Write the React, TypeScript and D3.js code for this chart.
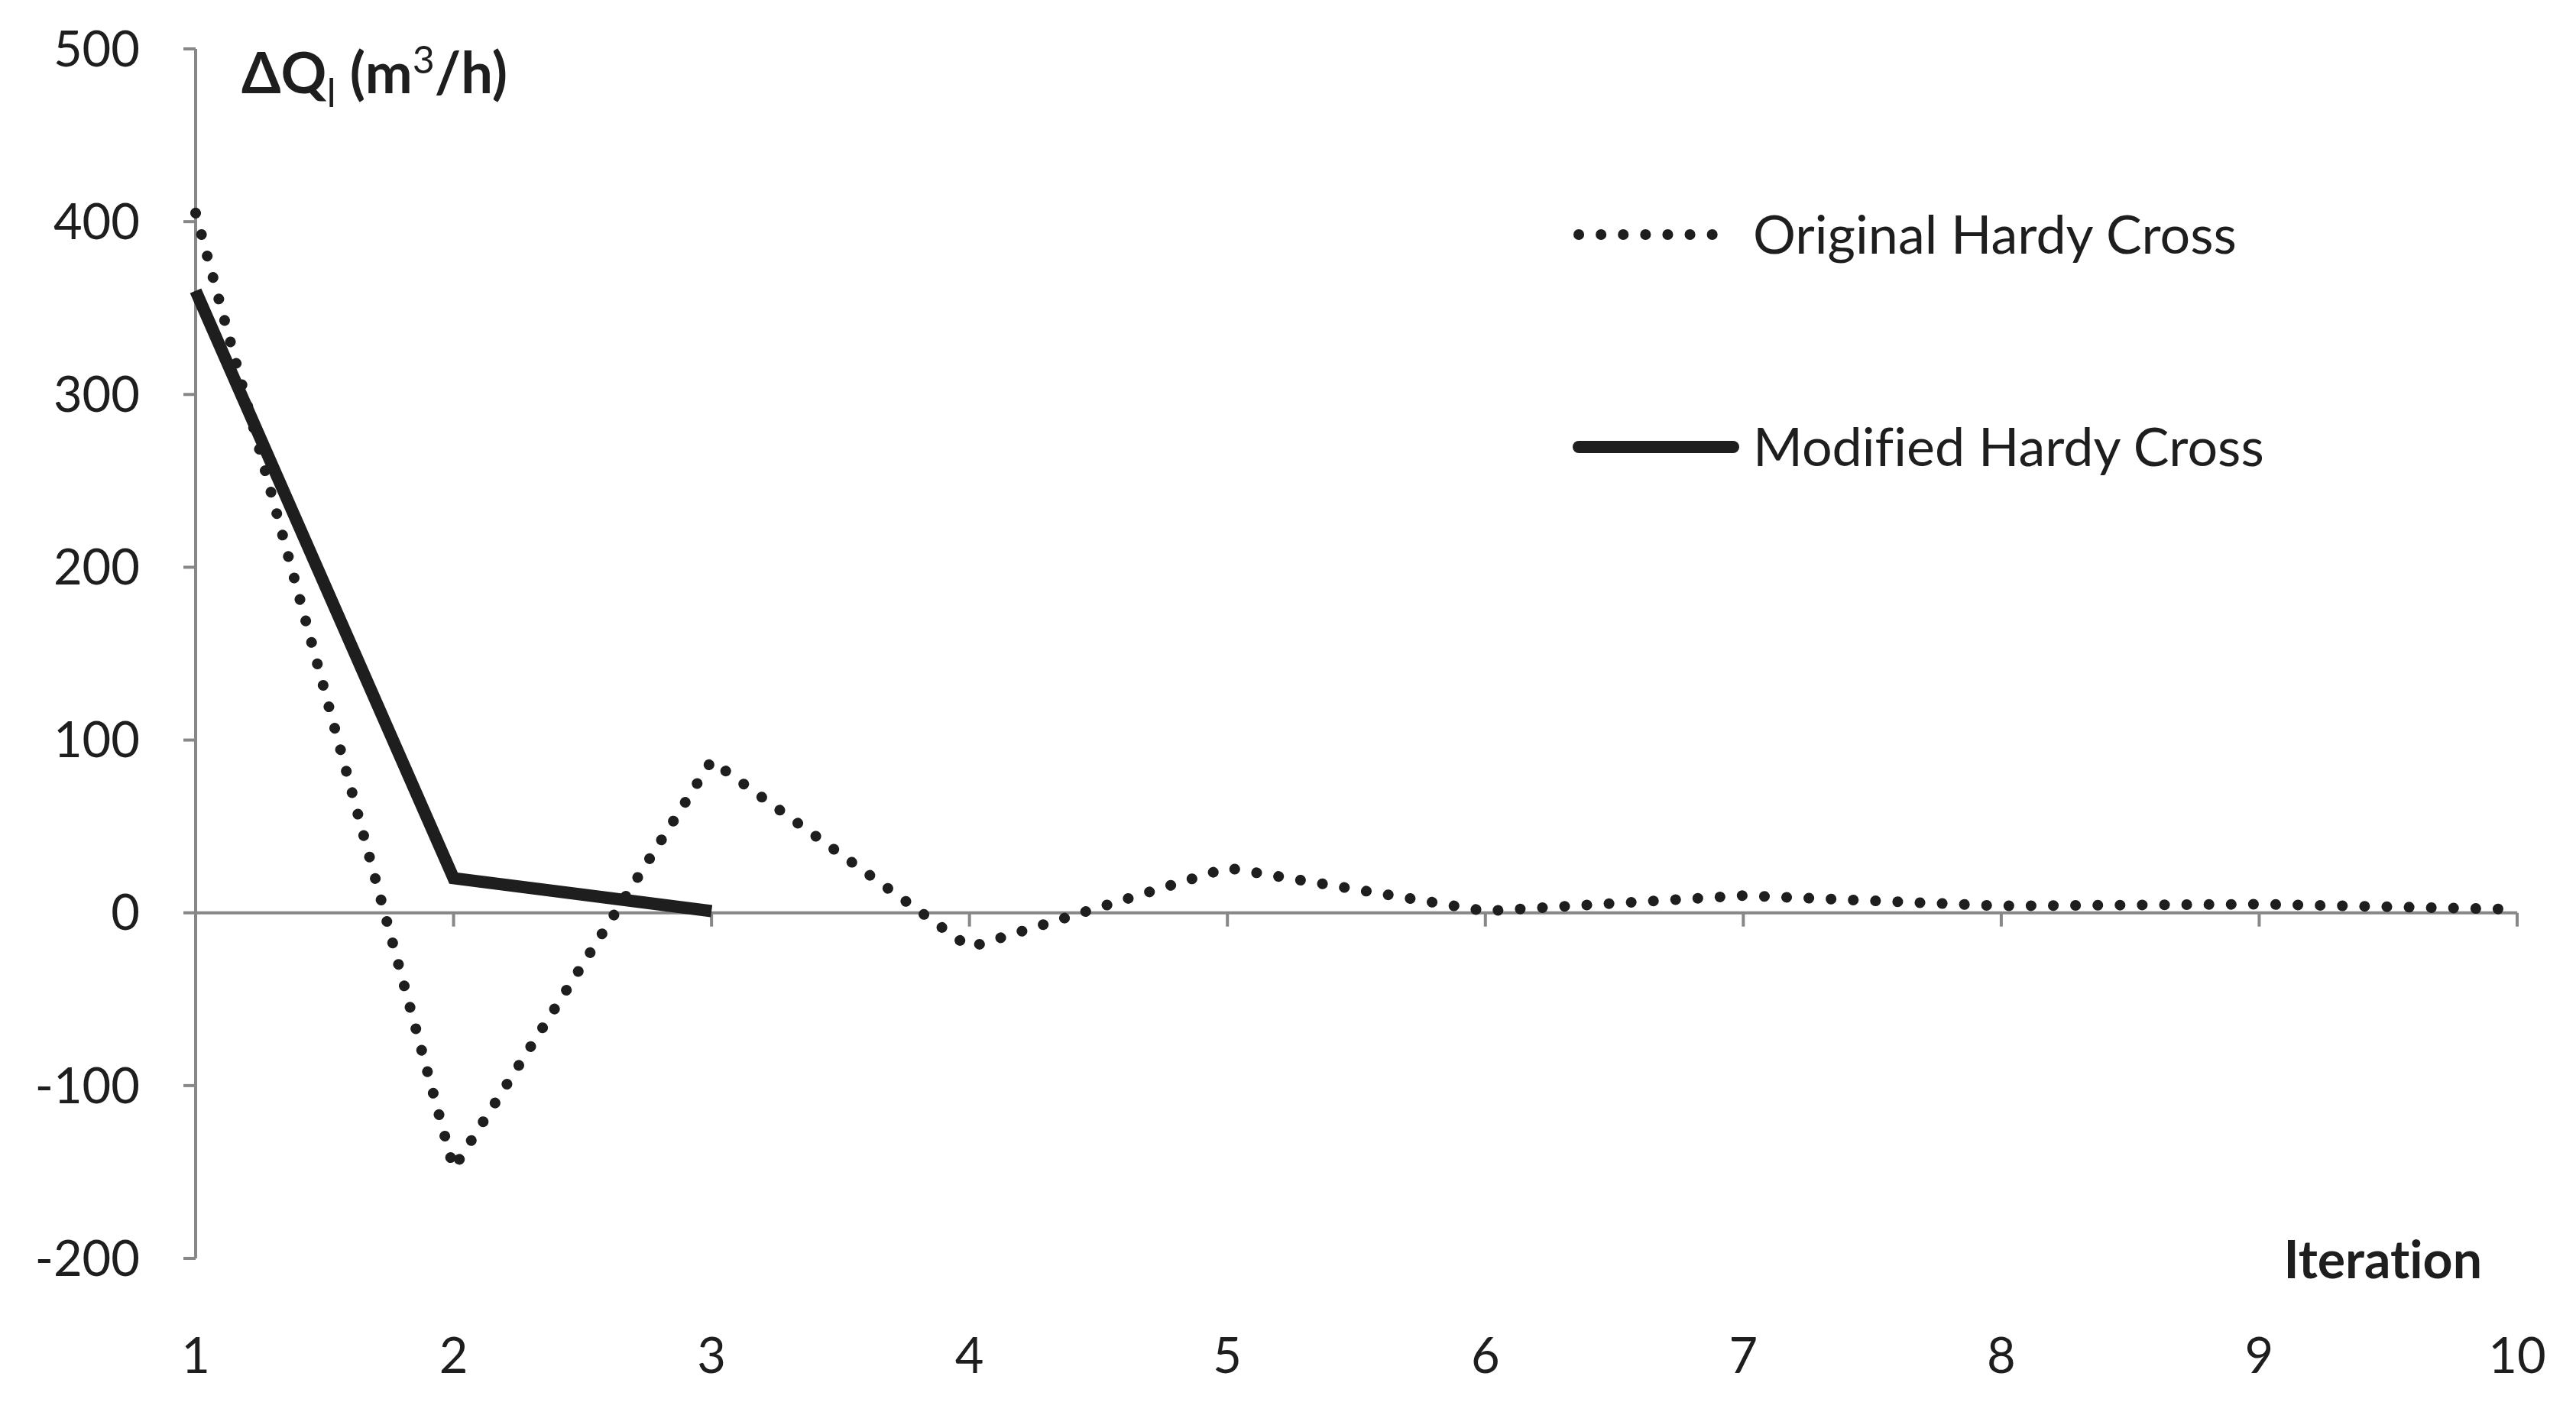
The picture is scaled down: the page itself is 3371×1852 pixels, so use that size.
import React from 'react';
import * as d3 from 'd3';

// iterations on the x axis
const iterations = [1, 2, 3, 4, 5, 6, 7, 8, 9, 10];
// Delta Q (m3/h) per iteration
const originalHC = [405, -148, 88, -20, 26, 1, 10, 4, 5, 2];
const modifiedHC = [360, 20, 1];
const yTicks = [-200, -100, 0, 100, 200, 300, 400, 500];
const seriesNames = ['Original Hardy Cross', 'Modified Hardy Cross'];

const W = 3371;
const H = 1852;
const FONT = 'Lato, "Open Sans", "Liberation Sans", sans-serif';
const AXIS = '#878787';
const INK = '#1e1e1e';

export default function App() {
  const x = d3.scaleLinear().domain([1, 10]).range([256, 3294]);
  const y = d3.scaleLinear().domain([-200, 500]).range([1647, 64]);

  const line = d3.line<[number, number]>()
    .x(d => x(d[0]))
    .y(d => y(d[1]));

  const origPts = iterations.map((it, i) => [it, originalHC[i]] as [number, number]);
  const modPts = modifiedHC.map((v, i) => [iterations[i], v] as [number, number]);

  const dotted = { stroke: INK, strokeWidth: 14, strokeLinecap: 'round' as const, strokeDasharray: '0.1 29', fill: 'none' };
  const solid = { stroke: INK, strokeWidth: 16, strokeLinecap: 'butt' as const, strokeLinejoin: 'miter' as const, fill: 'none' };

  const legendX0 = 2066;
  const legendX1 = 2268;
  const legendY = [307, 585];

  return (
    <svg width={W} height={H} style={{ position: 'absolute', left: 0, top: 0, background: '#fff', fontVariantLigatures: 'none' }} fontFamily={FONT}>
      {/* y axis */}
      <line x1={x(1)} x2={x(1)} y1={y(500)} y2={y(-200)} stroke={AXIS} strokeWidth={4} />
      {yTicks.map(t => (
        <g key={t}>
          <line x1={x(1) - 16} x2={x(1)} y1={y(t)} y2={y(t)} stroke={AXIS} strokeWidth={4} />
          <text x={183} y={y(t)} dy="0.35em" textAnchor="end" fontSize={65} fill={INK}>{t}</text>
        </g>
      ))}
      {/* x axis at zero */}
      <line x1={x(1)} x2={x(10)} y1={y(0)} y2={y(0)} stroke={AXIS} strokeWidth={4} />
      {iterations.map(it => (
        <g key={it}>
          <line x1={x(it)} x2={x(it)} y1={y(0)} y2={y(0) + 18} stroke={AXIS} strokeWidth={4} />
          <text x={x(it)} y={1797} textAnchor="middle" fontSize={65} fill={INK}>{it}</text>
        </g>
      ))}

      {/* series */}
      <path d={line(origPts) ?? ''} {...dotted} />
      <path d={line(modPts) ?? ''} {...solid} />

      {/* axis titles */}
      <text x={316} y={122} fontSize={74} fontWeight="bold" fill={INK}>
        ΔQ<tspan fontSize={52} fontWeight="normal" dy={18}>l</tspan>
        <tspan dy={-18}> (m</tspan>
        <tspan fontSize={50} fontWeight="normal" dy={-26}>3</tspan>
        <tspan dy={26}>/h)</tspan>
      </text>
      <text x={3248} y={1673} textAnchor="end" fontSize={68} fontWeight="bold" fill={INK}>Iteration</text>

      {/* legend */}
      <line x1={legendX0} x2={legendX1 - 12} y1={legendY[0]} y2={legendY[0]} {...dotted} />
      <line x1={legendX0} x2={legendX1} y1={legendY[1]} y2={legendY[1]} {...solid} strokeLinecap="round" />
      {seriesNames.map((n, i) => (
        <text key={n} x={2294} y={legendY[i]} dy="0.35em" fontSize={70} fill={INK}>{n}</text>
      ))}
    </svg>
  );
}
